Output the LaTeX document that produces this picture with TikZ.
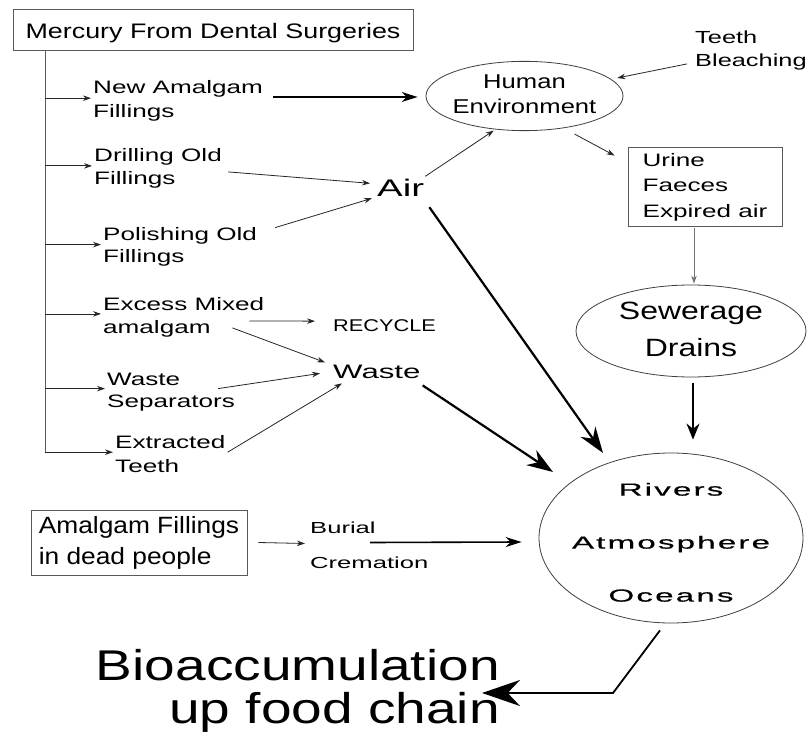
\documentclass[tikz,border=0pt]{standalone}
\usepackage{fontspec}
\setmainfont{Liberation Sans}[FakeStretch=1.28]
\newfontfamily\lfont{Liberation Sans}[FakeStretch=1.45]
\newfontfamily\wfont{Liberation Sans}[FakeStretch=1.6]
\newfontfamily\cfont{Liberation Sans}[FakeStretch=1.9,LetterSpace=12,FakeBold=0.4]
\newfontfamily\bfont{Liberation Sans}[FakeStretch=1.12]
\usetikzlibrary{shapes.geometric,arrows.meta,calc}
\newcommand{\mylines}[2]{\begin{tabular}[t]{@{}#1@{}}#2\end{tabular}}
\begin{document}
\begin{tikzpicture}[x=1pt,y=-1pt,
  box/.style={draw=black!65, line width=0.9pt, inner sep=0pt},
  oval/.style={ellipse, draw=black!75, line width=0.8pt, inner sep=0pt},
  lbl/.style={inner xsep=2pt, inner ysep=0pt, anchor=base west},
  plain/.style={inner sep=0pt, anchor=base west},
  trunk/.style={draw=black!65, line width=1pt},
  thinarr/.style={draw=black!85, line width=0.8pt, -{Stealth[length=8pt,width=5.5pt]}},
  grayarr/.style={draw=black!55, line width=0.9pt, -{Stealth[length=8pt,width=5.5pt]}},
  midarr/.style={draw=black, line width=1.6pt, -{Stealth[length=16pt,width=10pt]}},
  bigarr/.style={draw=black, line width=2.2pt, -{Stealth[length=26pt,width=18pt]}},
  sewarr/.style={draw=black, line width=1.8pt, -{Stealth[length=16pt,width=13pt]}},
  hugearr/.style={draw=black, line width=1.8pt, -{Stealth[length=38pt,width=26pt]}},
]
\useasboundingbox (0,0) rectangle (809,738);
\fill[white] (0,0) rectangle (809,738);

% nodes
\node[box, minimum width=400pt, minimum height=41pt, text height=19pt, text depth=0pt,
      font=\fontsize{21}{25}\selectfont] (src) at (213,29.5) {Mercury From Dental Surgeries};

\node[lbl, font=\lfont\fontsize{18}{24}\selectfont] (na) at (91,94) {\mylines{l}{New Amalgam\\Fillings}};
\node[lbl, font=\lfont\fontsize{18}{23}\selectfont] (dr) at (92,162) {\mylines{l}{Drilling Old\\Fillings}};
\node[lbl, font=\lfont\fontsize{18}{22}\selectfont] (po) at (101,241) {\mylines{l}{Polishing Old\\Fillings}};
\node[lbl, font=\lfont\fontsize{18}{23}\selectfont] (ex) at (101,310) {\mylines{l}{Excess Mixed\\amalgam}};
\node[lbl, font=\lfont\fontsize{18}{22}\selectfont] (ws) at (105,385) {\mylines{l}{Waste\\Separators}};
\node[lbl, font=\lfont\fontsize{18}{24}\selectfont] (et) at (113,448) {\mylines{l}{Extracted\\Teeth}};

\node[oval, minimum width=197pt, minimum height=68pt, inner xsep=-6pt, font=\fontsize{20}{24.5}\selectfont]
  (human) at (524.5,96) {\mylines{c}{Human\\Environment}};
\node[plain, font=\lfont\fontsize{17.5}{23}\selectfont] (teeth) at (695,44) {\mylines{l}{Teeth\\Bleaching}};
\node[plain, font=\wfont\fontsize{24}{28}\selectfont] (air) at (377,197) {Air};
\node[box, minimum width=154pt, minimum height=79pt, font=\lfont\fontsize{18}{25.5}\selectfont]
  (urine) at (705,186.5) {\mylines{l}{Urine\\Faeces\\Expired air}};
\node[oval, minimum width=230pt, minimum height=92pt, inner ysep=-8pt, font=\fontsize{25}{37}\selectfont]
  (sewer) at (691,331) {\mylines{c}{Sewerage\\Drains}};
\node[plain, font=\fontsize{17}{20}\selectfont] (recycle) at (333,331) {RECYCLE};
\node[plain, font=\wfont\fontsize{19.5}{23}\selectfont] (waste) at (333,378) {Waste};
\node[oval, minimum width=264pt, minimum height=170pt, inner xsep=-11pt, inner ysep=-20pt,
      font=\cfont\fontsize{17.5}{53}\selectfont]
  (circ) at (671,538) {\mylines{c}{Rivers\\Atmosphere\\Oceans}};
\node[box, minimum width=216pt, minimum height=65pt, font=\bfont\fontsize{23.5}{31}\selectfont]
  (am) at (139,542.5) {\mylines{l}{Amalgam Fillings\\in dead people}};
\node[plain, font=\wfont\fontsize{16}{35}\selectfont] (burial) at (310,533) {\mylines{l}{Burial\\Cremation}};
\node[inner sep=0pt, anchor=base east, font=\fontsize{43}{40}\selectfont]
  (bio) at (500,680) {\mylines{r}{Bioaccumulation\\up food chain}};

% trunk and branches
\coordinate (t0) at (45,50);
\draw[trunk] (t0) -- ($(t0 |- et.west)+(0,-3)$);
\foreach \n in {na,dr,po,ex,ws,et}{
  \draw[thinarr] ($(t0 |- \n.west)+(0,-3)$) -- ($(\n.west)+(0,-3)$);
}

% connectors
\draw[midarr] ($(na.east |- human.west)+(8,1)$) -- ($(human.west)+(-8,1)$);
\draw[thinarr] ($(dr.east)+(4,3)$) -- ($(air.west)+(-7,-5)$);
\draw[thinarr] ($(po.east)+(16,-20)$) -- ($(air.west)+(-5,10)$);
\draw[thinarr, shorten >=2pt] ($(air.east)+(1,-12)$) -- (human.229);
\draw[thinarr] ($(teeth.west)+(-8,13)$) -- ($(human.12)+(8,0)$);
\draw[thinarr] ($(human.south)+(50,3)$) -- ($(urine.north west)+(-13,9)$);
\draw[grayarr] ($(urine.south)+(-11,2)$) -- ($(sewer.north)+(3,-1)$);
\draw[bigarr] ($(air.south east)+(5,10)$) -- ($(circ.center)+(-68,-85)$);
\draw[bigarr] ($(waste.south east)+(2,7)$) -- ($(circ.center)+(-118,-66)$);
\draw[sewarr] ($(sewer.south)+(2,6)$) -- ($(circ.north)+(22,-13)$);
\draw[thinarr] ($(ex.east)+(-17,4)$) -- ($(recycle.west)+(-18,-4)$);
\draw[thinarr] ($(ex.east)+(-34,11)$) -- ($(waste.west)+(-8,-9)$);
\draw[thinarr] ($(ws.east)+(-19,-3)$) -- ($(waste.west)+(-13,2)$);
\draw[thinarr] ($(et.east)+(0,-3)$) -- ($(waste.south west)+(9,5)$);
\draw[thinarr] ($(am.east)+(11,0)$) -- ($(burial.west)+(-5,0)$);
\draw[midarr] ($(burial.west)+(60,-1)$) -- ($(circ.west)+(-17,4)$);
\draw[hugearr] ($(circ.south)+(-11,7)$) -- ($(bio.east)+(113,1)$) -- ($(bio.east)+(-18,1)$);
\end{tikzpicture}
\end{document}
